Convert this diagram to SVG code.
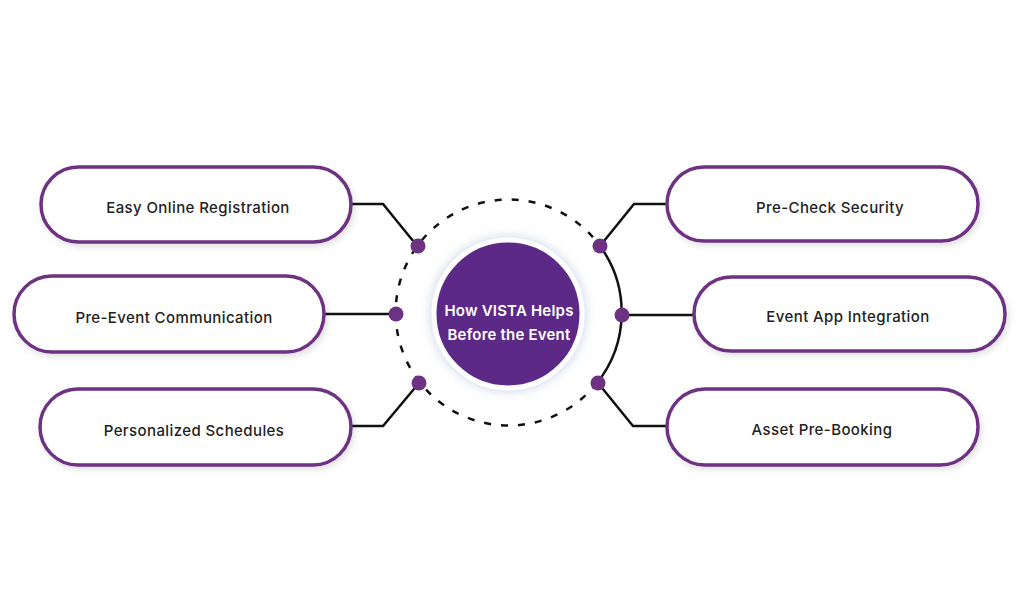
<svg xmlns="http://www.w3.org/2000/svg" width="1024" height="597" viewBox="0 0 1024 597">
<defs>
<filter id="pillShadow" x="-10%" y="-30%" width="120%" height="170%">
<feDropShadow dx="2" dy="3" stdDeviation="3" flood-color="#000" flood-opacity="0.12"/>
</filter>
<filter id="glow" x="-40%" y="-40%" width="180%" height="180%">
<feDropShadow dx="0" dy="0" stdDeviation="6" flood-color="#9fb0d0" flood-opacity="0.6"/>
</filter>
<style>
.pill{fill:#fff;stroke:#6E3283;stroke-width:3.5;}
.lbl{font-family:Inter,"Liberation Sans",sans-serif;font-size:15px;font-weight:500;fill:#222;text-anchor:middle;dominant-baseline:central;letter-spacing:0.4px;}
.ctr{font-family:Inter,"Liberation Sans",sans-serif;font-size:15px;font-weight:600;fill:#fff;text-anchor:middle;dominant-baseline:central;letter-spacing:0.2px;}
.wire{fill:none;stroke:#111;stroke-width:2.5;}
.dot{fill:#6E3283;}
</style>
</defs>
<rect width="1024" height="597" fill="#fff"/>
<g id="connectors">
<path class="wire" d="M597,383 A113,113 0 1 1 600,246" stroke-dasharray="7 10"/>
<path class="wire" d="M600,246 A113,113 0 0 1 597,383"/>
<polyline class="wire" points="351,204 383,204 418,247"/>
<polyline class="wire" points="324,314 395,314"/>
<polyline class="wire" points="351,426 383,426 419,383"/>
<polyline class="wire" points="600,246 634,204 668,204"/>
<polyline class="wire" points="621,315 695,315"/>
<polyline class="wire" points="598,383 633,426 668,426"/>
<circle class="dot" cx="418" cy="246" r="7.5"/>
<circle class="dot" cx="396" cy="314" r="7.5"/>
<circle class="dot" cx="419" cy="383" r="7.5"/>
<circle class="dot" cx="600" cy="246" r="7.5"/>
<circle class="dot" cx="622" cy="315" r="7.5"/>
<circle class="dot" cx="598" cy="383" r="7.5"/>
</g>
<g id="center">
<circle cx="508" cy="314" r="74" fill="#5B2C86" stroke="#fff" stroke-width="5" filter="url(#glow)"/>
<text class="ctr" x="509" y="310">How VISTA Helps</text>
<text class="ctr" x="509" y="334">Before the Event</text>
</g>
<g id="n1"><rect class="pill" x="41" y="167" width="310" height="75" rx="37.5" filter="url(#pillShadow)"/><text class="lbl" x="198" y="207">Easy Online Registration</text></g>
<g id="n2"><rect class="pill" x="14" y="276" width="310" height="76" rx="38" filter="url(#pillShadow)"/><text class="lbl" x="174" y="317">Pre-Event Communication</text></g>
<g id="n3"><rect class="pill" x="40" y="389" width="311" height="76" rx="38" filter="url(#pillShadow)"/><text class="lbl" x="194" y="430">Personalized Schedules</text></g>
<g id="n4"><rect class="pill" x="667" y="167" width="311" height="74" rx="37" filter="url(#pillShadow)"/><text class="lbl" x="830" y="207">Pre-Check Security</text></g>
<g id="n5"><rect class="pill" x="694" y="277" width="311" height="74" rx="37" filter="url(#pillShadow)"/><text class="lbl" x="848" y="316">Event App Integration</text></g>
<g id="n6"><rect class="pill" x="667" y="389" width="311" height="76" rx="38" filter="url(#pillShadow)"/><text class="lbl" x="822" y="429">Asset Pre-Booking</text></g>
</svg>
